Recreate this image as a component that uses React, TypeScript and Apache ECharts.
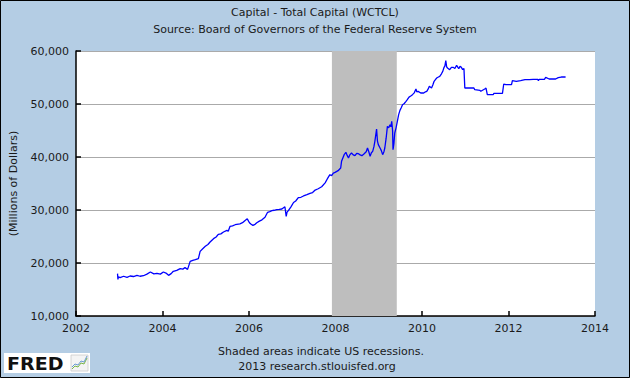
import React, { useEffect, useRef } from "react";
import * as echarts from "echarts";

const years: number[] = [
  2002.96, 2002.97, 2002.98, 2003.02, 2003.10, 2003.18, 2003.25, 2003.33, 2003.41, 2003.48,
  2003.56, 2003.64, 2003.72, 2003.80, 2003.87, 2003.95, 2004.02, 2004.08, 2004.14, 2004.20,
  2004.25, 2004.33, 2004.41, 2004.47, 2004.52, 2004.58, 2004.64, 2004.70, 2004.76, 2004.83,
  2004.87, 2004.93, 2004.99, 2005.05, 2005.10, 2005.18, 2005.24, 2005.29, 2005.35, 2005.41,
  2005.49, 2005.52, 2005.56, 2005.62, 2005.68, 2005.79, 2005.85, 2005.91, 2005.96, 2006.01,
  2006.05, 2006.09, 2006.14, 2006.18, 2006.24, 2006.30, 2006.37, 2006.43, 2006.48, 2006.53,
  2006.58, 2006.64, 2006.70, 2006.76, 2006.83, 2006.86, 2006.88, 2006.91, 2006.97, 2007.03,
  2007.08, 2007.14, 2007.20, 2007.26, 2007.34, 2007.41, 2007.47, 2007.53, 2007.60, 2007.68,
  2007.76, 2007.81, 2007.87, 2007.91, 2007.95, 2007.99, 2008.06, 2008.12, 2008.14, 2008.20,
  2008.24, 2008.27, 2008.30, 2008.33, 2008.37, 2008.41, 2008.45, 2008.49, 2008.53, 2008.57,
  2008.61, 2008.65, 2008.68, 2008.71, 2008.74, 2008.77, 2008.80, 2008.83, 2008.86, 2008.89,
  2008.91, 2008.95, 2008.97, 2008.99, 2009.03, 2009.06, 2009.09, 2009.12, 2009.14, 2009.17,
  2009.20, 2009.23, 2009.26, 2009.28, 2009.30, 2009.32, 2009.33, 2009.35, 2009.37, 2009.40,
  2009.43, 2009.46, 2009.49, 2009.52, 2009.55, 2009.59, 2009.63, 2009.66, 2009.70, 2009.74,
  2009.78, 2009.82, 2009.86, 2009.88, 2009.91, 2009.97, 2010.04, 2010.08, 2010.11, 2010.14,
  2010.17, 2010.22, 2010.25, 2010.28, 2010.31, 2010.34, 2010.38, 2010.41, 2010.45, 2010.48,
  2010.51, 2010.53, 2010.55, 2010.57, 2010.59, 2010.64, 2010.68, 2010.72, 2010.76, 2010.80,
  2010.83, 2010.85, 2010.88, 2010.91, 2010.94, 2010.97, 2010.99, 2011.11, 2011.20, 2011.22,
  2011.34, 2011.36, 2011.41, 2011.45, 2011.48, 2011.51, 2011.57, 2011.65, 2011.66, 2011.86,
  2011.89, 2011.94, 2012.07, 2012.09, 2012.18, 2012.28, 2012.38, 2012.48, 2012.57, 2012.68,
  2012.69, 2012.71, 2012.83, 2012.86, 2012.94, 2013.09, 2013.15, 2013.22, 2013.32,
];

const capital: number[] = [
  18000, 16900, 17400, 17230, 17500, 17300, 17550, 17450, 17670, 17500,
  17600, 17900, 18300, 17950, 18050, 17900, 18300, 18100, 17670, 18000,
  18430, 18600, 18930, 18850, 19120, 18800, 20300, 20500, 20630, 20820,
  22200, 22700, 23150, 23500, 23960, 24590, 24900, 25400, 25500, 25850,
  26160, 26000, 26900, 27000, 27220, 27400, 27600, 28030, 28330, 27600,
  27300, 27100, 27300, 27600, 27900, 28150, 28640, 29570, 29700, 29880,
  29950, 30060, 30100, 30190, 30620, 28800, 29600, 29880, 30600, 31420,
  31700, 32340, 32400, 32650, 32900, 33150, 33300, 33760, 34010, 34380,
  35120, 35860, 36660, 36480, 36970, 37100, 37420, 37920, 39180, 40440,
  40880, 40300, 39810, 40400, 40750, 40400, 40250, 40700, 40630, 40400,
  40250, 40500, 40750, 41000, 41700, 41000, 40130, 40800, 41070, 42000,
  42960, 45280, 43000, 42330, 41700, 41200, 40440, 41000, 41700, 43500,
  45790, 45500, 46100, 45700, 46730, 45000, 41380, 42500, 44530, 45500,
  46730, 48000, 48800, 49300, 49870, 50100, 50500, 50820, 51300, 51500,
  51760, 52100, 52830, 52300, 52390, 52080, 52080, 52300, 52390, 52800,
  53330, 53020, 53600, 54280, 54600, 54910, 55100, 55220, 55700, 56160,
  56920, 57200, 58180, 57000, 56790, 56480, 56900, 56920, 56700, 57300,
  56900, 56670, 57100, 56920, 56500, 56670, 53020, 53020, 53020, 52700,
  52580, 52400, 52640, 52830, 53000, 51760, 51760, 51760, 52010, 52010,
  53770, 53650, 53650, 54400, 54280, 54400, 54590, 54590, 54650, 54650,
  54400, 54650, 54650, 55030, 54720, 54720, 54970, 55090, 55090,
];

const recessionStart = 2007.917;
const recessionEnd = 2009.417;

const titleLines = [
  "Capital - Total Capital (WCTCL)",
  "Source: Board of Governors of the Federal Reserve System",
];
const footerLines = [
  "Shaded areas indicate US recessions.",
  "2013 research.stlouisfed.org",
];
const yAxisName = "(Millions of Dollars)";

const FONT = "DejaVu Sans";
const TEXT_COLOR = "#1a1a1a";

export default function App() {
  const ref = useRef<HTMLDivElement>(null);

  useEffect(() => {
    if (!ref.current) return;
    const chart = echarts.init(ref.current, null, { renderer: "svg" });
    const data = years.map((y, i) => [y, capital[i]]);

    chart.setOption({
      animation: false,
      backgroundColor: "#b4cde4",
      grid: {
        left: 76,
        right: 35,
        top: 51,
        bottom: 62,
        show: true,
        backgroundColor: "#ffffff",
        borderWidth: 0,
      },
      xAxis: {
        type: "value",
        min: 2002,
        max: 2014,
        interval: 2,
        axisLine: { show: true, lineStyle: { color: "#000", width: 1.5 } },
        axisTick: { show: true, inside: true, length: 5, lineStyle: { color: "#000", width: 1.5 } },
        splitLine: { show: false },
        axisLabel: {
          color: TEXT_COLOR,
          fontFamily: FONT,
          fontSize: 11,
          margin: 7,
          formatter: (v: number) => String(v),
        },
      },
      yAxis: {
        type: "value",
        min: 10000,
        max: 60000,
        interval: 10000,
        name: yAxisName,
        nameLocation: "middle",
        nameGap: 57,
        nameTextStyle: { color: TEXT_COLOR, fontFamily: FONT, fontSize: 11 },
        axisLine: { show: true, lineStyle: { color: "#000", width: 1.5 } },
        axisTick: { show: true, inside: true, length: 5, lineStyle: { color: "#000", width: 1.5 } },
        splitLine: { show: true, lineStyle: { color: "#aaaaaa", width: 1 } },
        axisLabel: {
          color: TEXT_COLOR,
          fontFamily: FONT,
          fontSize: 11,
          margin: 7,
          formatter: (v: number) => v.toLocaleString("en-US"),
        },
      },
      series: [
        {
          type: "line",
          data,
          showSymbol: false,
          symbol: "none",
          lineStyle: { color: "#0000ff", width: 1.3 },
          markArea: {
            silent: true,
            itemStyle: { color: "#bebebe", opacity: 1 },
            data: [[{ xAxis: recessionStart }, { xAxis: recessionEnd }]],
          },
          z: 3,
        },
      ],
      graphic: [
        {
          type: "text",
          left: "center",
          top: 7,
          style: { text: titleLines[0], fontFamily: FONT, fontSize: 11, fill: TEXT_COLOR },
        },
        {
          type: "text",
          left: "center",
          top: 24,
          style: { text: titleLines[1], fontFamily: FONT, fontSize: 11, fill: TEXT_COLOR },
        },
        {
          type: "text",
          x: 321,
          y: 351,
          style: {
            text: footerLines[0],
            fontFamily: FONT,
            fontSize: 11,
            fill: TEXT_COLOR,
            align: "center",
            verticalAlign: "middle",
          },
        },
        {
          type: "text",
          x: 317,
          y: 366,
          style: {
            text: footerLines[1],
            fontFamily: FONT,
            fontSize: 11,
            fill: TEXT_COLOR,
            align: "center",
            verticalAlign: "middle",
          },
        },
        {
          type: "rect",
          shape: { x: 4, y: 353, width: 86, height: 20 },
          style: { fill: "#ffffff" },
        },
        {
          type: "text",
          x: 7,
          y: 363.5,
          scaleX: 1.12,
          style: {
            text: "FRED",
            fontFamily: "DejaVu Sans",
            fontWeight: "bold",
            fontSize: 17,
            fill: "#111",
            verticalAlign: "middle",
          },
        },
        {
          type: "rect",
          shape: { x: 71, y: 355, width: 17, height: 16 },
          style: { fill: "#f4f4f4", stroke: "#cccccc", lineWidth: 0.8 },
        },
        {
          type: "polyline",
          shape: { points: [[72, 369], [75, 366], [78, 367], [81, 363], [84, 364], [87, 358]] },
          style: { stroke: "#7ab648", lineWidth: 1, fill: "none" },
        },
        {
          type: "polyline",
          shape: { points: [[72, 367], [75, 364], [78, 365], [81, 361], [84, 362], [87, 356]] },
          style: { stroke: "#6b9bd2", lineWidth: 1, fill: "none" },
        },
        {
          type: "rect",
          shape: { x: 0.5, y: 0.5, width: 629, height: 377 },
          style: { fill: "none", stroke: "#000", lineWidth: 1 },
          silent: true,
        },
      ],
    });

    return () => chart.dispose();
  }, []);

  return (
    <div
      ref={ref}
      style={{ position: "fixed", left: 0, top: 0, width: 630, height: 378 }}
    />
  );
}
